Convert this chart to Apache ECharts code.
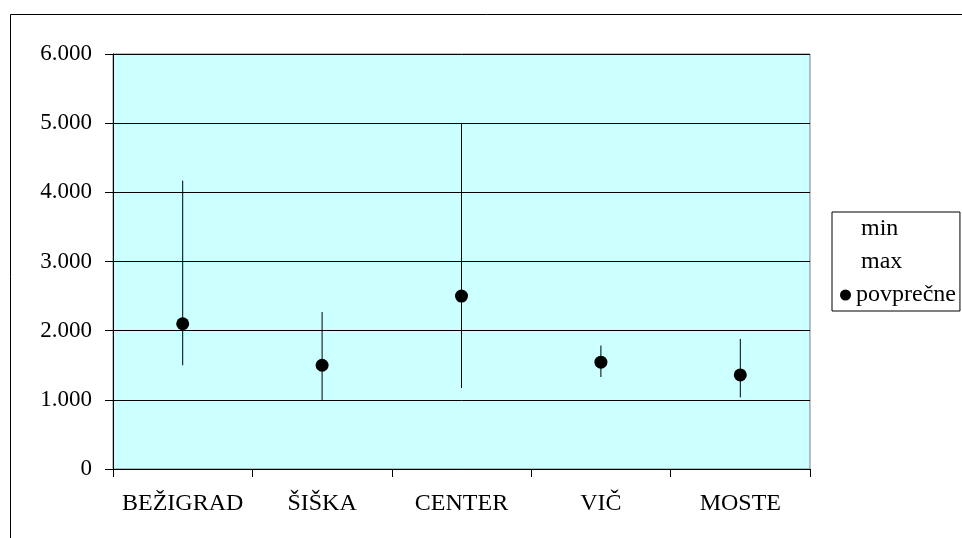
<!DOCTYPE html>
<html>
<head>
<meta charset="utf-8">
<title>Cene po četrtnih skupnostih</title>
<script src="https://cdn.jsdelivr.net/npm/echarts@6/dist/echarts.min.js"></script>
<style>
  html, body { margin: 0; padding: 0; background: #ffffff; }
  #chart { width: 962px; height: 538px; }
</style>
</head>
<body>
<div id="chart"></div>
<script>
// Districts and their price range (min / max) with the average value
const categories = ['BEŽIGRAD', 'ŠIŠKA', 'CENTER', 'VIČ', 'MOSTE'];
const minValues = [1500, 990, 1170, 1330, 1035];
const maxValues = [4170, 2270, 5000, 1785, 1880];
const avgValues = [2100, 1500, 2500, 1545, 1360];
const yTicks = [0, 1000, 2000, 3000, 4000, 5000, 6000];

const FONT = '"Liberation Serif", "Times New Roman", serif';

// Thousands separator as a dot: 6000 -> "6.000"
function fmtThousands(v) {
  if (v === 0) return '0';
  const th = Math.floor(v / 1000);
  const rest = String(v % 1000).padStart(3, '0');
  return th + '.' + rest;
}

// High-low line data: [categoryIndex, min, max]
const rangeData = categories.map((c, i) => [i, minValues[i], maxValues[i]]);

const chart = echarts.init(document.getElementById('chart'), null, { renderer: 'canvas' });

chart.setOption({
  backgroundColor: '#ffffff',
  animation: false,
  graphic: [{
    type: 'rect',
    silent: true,
    z: -10,
    shape: { x: 10.5, y: 14.5, width: 1000, height: 600 },
    style: { fill: 'none', stroke: '#000000', lineWidth: 1 }
  }],
  grid: {
    left: 113,
    right: 152,
    top: 54,
    bottom: 69,
    show: true,
    backgroundColor: '#CCFFFF',
    borderColor: '#808080',
    borderWidth: 1
  },
  legend: {
    orient: 'vertical',
    left: 832,
    top: 212,
    padding: [5, 4, 4, 8],
    itemGap: 9,
    itemWidth: 11,
    itemHeight: 11,
    backgroundColor: '#ffffff',
    borderColor: '#000000',
    borderWidth: 1,
    borderRadius: 0,
    selectedMode: false,
    textStyle: {
      fontFamily: FONT,
      fontSize: 24,
      color: '#000000',
      lineHeight: 24,
      rich: {
        s: { fontFamily: FONT, fontSize: 24, color: '#000000', padding: [0, 0, 0, 5], lineHeight: 24 }
      }
    },
    formatter: function (name) {
      return name === 'povprečne' ? name : '{s|' + name + '}';
    },
    data: [
      { name: 'min', icon: 'rect', itemStyle: { color: 'rgba(0,0,0,0)', borderWidth: 0 } },
      { name: 'max', icon: 'rect', itemStyle: { color: 'rgba(0,0,0,0)', borderWidth: 0 } },
      { name: 'povprečne', icon: 'circle', itemStyle: { color: '#000000', opacity: 1 } }
    ]
  },
  xAxis: {
    type: 'category',
    data: categories,
    boundaryGap: true,
    axisLine: { show: true, lineStyle: { color: '#000000', width: 1 } },
    axisTick: { show: true, length: 8, inside: false, lineStyle: { color: '#000000', width: 1 } },
    axisLabel: {
      fontFamily: FONT,
      fontSize: 24,
      color: '#000000',
      margin: 23,
      interval: 0
    },
    splitLine: { show: false }
  },
  yAxis: {
    type: 'value',
    min: yTicks[0],
    max: yTicks[yTicks.length - 1],
    interval: yTicks[1] - yTicks[0],
    axisLine: { show: true, lineStyle: { color: '#000000', width: 1 } },
    axisTick: { show: true, length: 8, inside: false, lineStyle: { color: '#000000', width: 1 } },
    axisLabel: {
      fontFamily: FONT,
      fontSize: 23,
      color: '#000000',
      margin: 21,
      formatter: fmtThousands
    },
    splitLine: { show: true, lineStyle: { color: '#000000', width: 1 } }
  },
  series: [
    {
      name: 'min',
      type: 'scatter',
      data: minValues,
      symbolSize: 0,
      itemStyle: { color: 'rgba(0,0,0,0)' },
      silent: true
    },
    {
      name: 'max',
      type: 'scatter',
      data: maxValues,
      symbolSize: 0,
      itemStyle: { color: 'rgba(0,0,0,0)' },
      silent: true
    },
    {
      name: 'range',
      type: 'custom',
      data: rangeData,
      silent: true,
      z: 3,
      renderItem: function (params, api) {
        const lo = api.coord([api.value(0), api.value(1)]);
        const hi = api.coord([api.value(0), api.value(2)]);
        return {
          type: 'line',
          shape: { x1: lo[0], y1: lo[1], x2: hi[0], y2: hi[1] },
          style: { stroke: '#000000', lineWidth: 1 }
        };
      }
    },
    {
      name: 'povprečne',
      type: 'scatter',
      data: avgValues,
      symbol: 'circle',
      symbolSize: 13,
      z: 5,
      itemStyle: { color: '#000000', opacity: 1 }
    }
  ]
});
</script>
</body>
</html>
